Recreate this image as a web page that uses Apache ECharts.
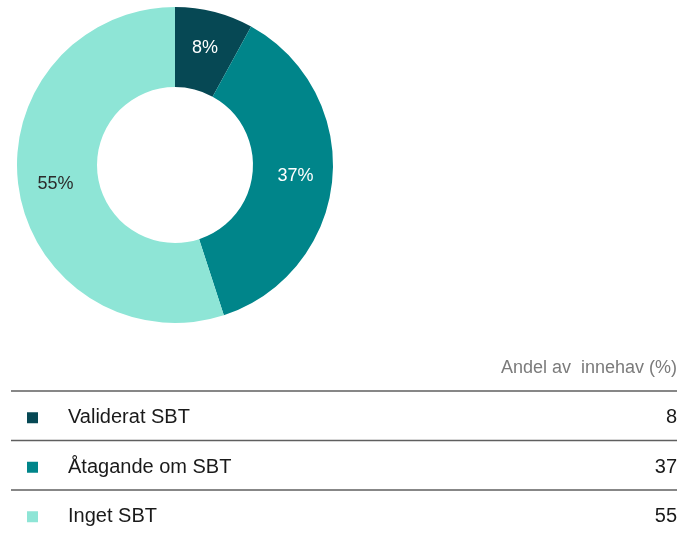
<!DOCTYPE html>
<html>
<head>
<meta charset="utf-8">
<script src="https://cdn.jsdelivr.net/npm/echarts@6/dist/echarts.min.js"></script>
<style>
  html, body { margin: 0; padding: 0; background: #fff; }
  #main { width: 692px; height: 535px; }
</style>
</head>
<body>
<div id="main"></div>
<script>
const categories = ['Validerat SBT', 'Åtagande om SBT', 'Inget SBT']
const values = [8, 37, 55]
const colors = ['#064854', '#00858a', '#8ee5d6']
const labelColors = ['#ffffff', '#ffffff', '#2b2b2b']
const header = 'Andel av  innehav (%)'

const font = '"Liberation Sans", Arial, sans-serif'
const chart = echarts.init(document.getElementById('main'))

// table below the donut
const graphic = []
const rowTop = 391
const rowH = 49.5
graphic.push({
  type: 'text', x: 677, y: 368,
  style: { text: header, font: '18px ' + font, fill: '#7b7b7b', align: 'right', verticalAlign: 'middle' }
})
categories.forEach((name, i) => {
  const y = rowTop + i * rowH
  graphic.push({
    type: 'line',
    shape: { x1: 11, y1: y, x2: 677, y2: y },
    style: { stroke: '#5f5f5f', lineWidth: 1.5 }
  })
  const cy = y + rowH / 2 + 2
  graphic.push({
    type: 'rect',
    shape: { x: 27, y: cy - 5.5, width: 11, height: 11 },
    style: { fill: colors[i] }
  })
  graphic.push({
    type: 'text', x: 68, y: cy,
    style: { text: name, font: '20px ' + font, fill: '#1a1a1a', verticalAlign: 'middle' }
  })
  graphic.push({
    type: 'text', x: 677, y: cy,
    style: { text: String(values[i]), font: '20px ' + font, fill: '#1a1a1a', align: 'right', verticalAlign: 'middle' }
  })
})

chart.setOption({
  animation: false,
  series: [{
    type: 'pie',
    center: [175, 165],
    radius: [78, 158],
    startAngle: 90,
    clockwise: true,
    silent: true,
    label: {
      show: true,
      position: 'inside',
      formatter: '{c}%',
      fontSize: 18,
      fontFamily: font
    },
    labelLine: { show: false },
    data: categories.map((name, i) => ({
      name: name,
      value: values[i],
      itemStyle: { color: colors[i] },
      label: { color: labelColors[i] }
    }))
  }],
  graphic: graphic
})
</script>
</body>
</html>
